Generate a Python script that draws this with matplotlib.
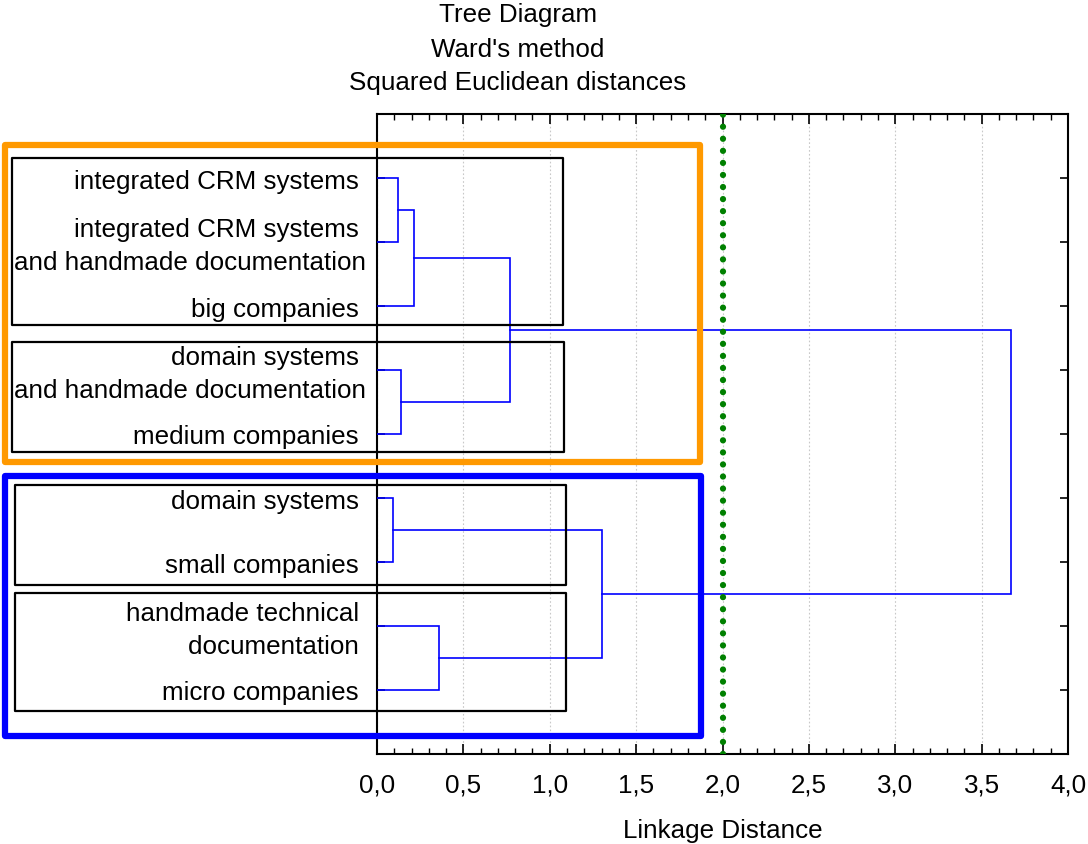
import matplotlib
matplotlib.use("Agg")
import matplotlib.pyplot as plt
from matplotlib.patches import Rectangle
from matplotlib.ticker import FuncFormatter, MultipleLocator
from matplotlib.transforms import offset_copy

plt.rcParams['font.family'] = ['Liberation Sans', 'DejaVu Sans']

# ---- data ----
leaf_labels = [
    "integrated CRM systems ",
    "integrated CRM systems \nand handmade documentation",
    "big companies ",
    "domain systems \nand handmade documentation",
    "medium companies ",
    "domain systems ",
    "small companies ",
    "handmade technical \ndocumentation ",
    "micro companies ",
]
# merges: (child_a, child_b); leaves are 0..8, new clusters are 9, 10, ...
merge_pairs = [(0, 1), (9, 2), (3, 4), (10, 11), (5, 6), (7, 8), (13, 14), (12, 15)]
merge_heights = [0.12, 0.215, 0.14, 0.77, 0.093, 0.36, 1.30, 3.67]
cut_distance = 2.0
x_ticks = [0.0, 0.5, 1.0, 1.5, 2.0, 2.5, 3.0, 3.5, 4.0]

FS = 18.7
W, H = 1088, 845
fig = plt.figure(figsize=(W / 100, H / 100), dpi=100)
ax = fig.add_axes([377 / W, 1 - 755 / H, (1068 - 377) / W, (755 - 115) / H])

n = len(leaf_labels)
leaf_pos = list(range(1, n + 1))
pos = {i: float(leaf_pos[i]) for i in range(n)}
hgt = {i: 0.0 for i in range(n)}
link_color = '#0000FF'
for k, ((a, b), h) in enumerate(zip(merge_pairs, merge_heights)):
    ya, yb = pos[a], pos[b]
    ax.plot([hgt[a], h, h, hgt[b]], [ya, ya, yb, yb], color=link_color, lw=1.2,
            solid_joinstyle='miter', zorder=3)
    cid = n + k
    pos[cid] = (ya + yb) / 2
    hgt[cid] = h

ax.axvline(cut_distance, color='#008000', lw=4.5, linestyle=(0, (0.01, 1.92)),
           dash_capstyle='round', zorder=4)

ax.set_xlim(0, 4.0)
ax.set_ylim(n + 1, 0)
ax.set_xticks(x_ticks)
ax.xaxis.set_minor_locator(MultipleLocator(0.1))
ax.xaxis.set_major_formatter(FuncFormatter(lambda v, p: f"{v:.1f}".replace('.', ',')))
ax.set_yticks(leaf_pos)
ax.set_yticklabels([])
ax.grid(axis='x', which='major', color='#c8c8c8', linestyle=(0, (1.5, 2)), lw=0.8)

# leaf labels as text to the left of the axis
for yv, lab in zip(leaf_pos, leaf_labels):
    multi = "\n" in lab
    tr = offset_copy(ax.get_yaxis_transform(), fig=fig, x=-11,
                     y=(-3.5 if multi else 0), units='dots')
    ax.text(0, yv, lab, transform=tr, ha='right',
            va=('center' if multi else 'center_baseline'),
            fontsize=FS, linespacing=1.45, clip_on=False)

ax.tick_params(axis='x', which='major', direction='in', length=7, width=1.2,
               top=True, bottom=True, labelsize=FS, pad=13)
ax.tick_params(axis='x', which='minor', direction='in', length=4, width=1.0,
               top=True, bottom=True)
ax.tick_params(axis='y', which='major', direction='in', length=6, width=1.2,
               left=True, right=True)
for s in ax.spines.values():
    s.set_linewidth(1.5)
ax.set_xlabel("Linkage Distance", fontsize=FS, labelpad=16)

# ---- titles ----
title_lines = ["Tree Diagram", "Ward's method", "Squared Euclidean distances"]
for t, yy in zip(title_lines, [15, 50, 83]):
    fig.text(518 / W, 1 - yy / H, t, ha='center', va='center', fontsize=FS)

# ---- boxes (figure pixel coordinates) ----
def fig_rect(x0, y0, x1, y1, color, lw):
    r = Rectangle((x0 / W, 1 - y1 / H), (x1 - x0) / W, (y1 - y0) / H,
                  transform=fig.transFigure, fill=False, edgecolor=color,
                  linewidth=lw, joinstyle='round', zorder=10)
    fig.add_artist(r)

fig_rect(12, 159, 563, 326, 'black', 1.6)
fig_rect(12, 343, 564, 453, 'black', 1.6)
fig_rect(15, 486, 566, 586, 'black', 1.6)
fig_rect(15, 594, 566, 712, 'black', 1.6)
fig_rect(5, 146, 700, 463, '#FF9900', 4.5)
fig_rect(5, 477, 701, 737, '#0000FF', 4.5)

fig.savefig("out.png", dpi=100)
